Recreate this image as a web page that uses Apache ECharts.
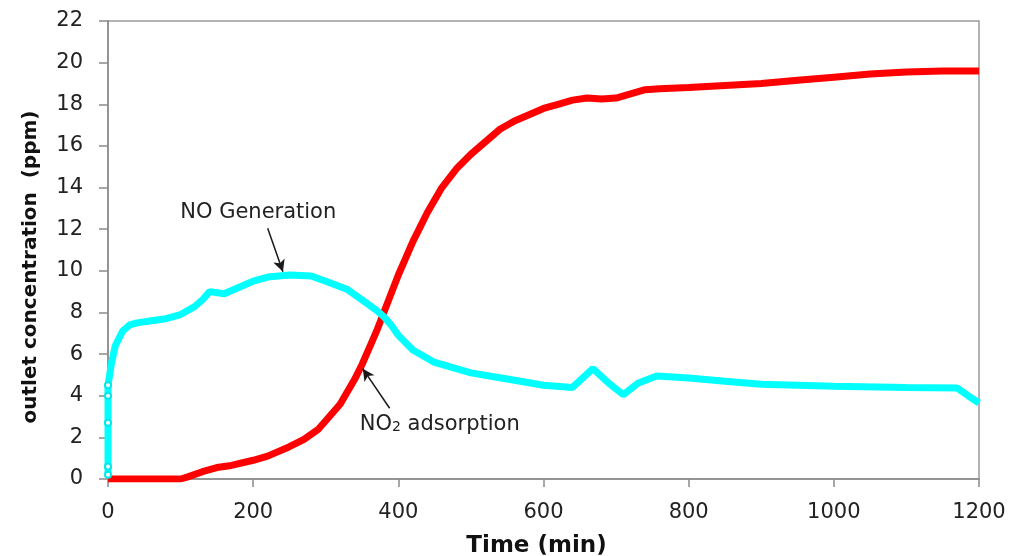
<!DOCTYPE html>
<html><head><meta charset="utf-8">
<script src="https://cdn.jsdelivr.net/npm/echarts@6/dist/echarts.min.js"></script>
<style>html,body{margin:0;padding:0;background:#fff}#c{width:1010px;height:556px}</style>
</head><body><div id="c"></div>
<script>
// ---- data ----
var timeNO2 = [0,20,40,60,80,100,110,130,150,170,200,220,250,270,290,300,320,340,350,360,370,380,390,400,410,420,430,440,450,460,480,500,520,540,560,580,600,620,640,660,680,700,720,740,760,800,850,900,950,1000,1050,1100,1150,1200];
var valNO2  = [0,0,0,0,0,0,0.1,0.35,0.55,0.65,0.9,1.1,1.55,1.9,2.4,2.8,3.6,4.8,5.5,6.3,7.1,8.0,8.9,9.8,10.6,11.4,12.1,12.8,13.4,14.0,14.9,15.6,16.2,16.8,17.2,17.5,17.8,18.0,18.2,18.3,18.25,18.3,18.5,18.7,18.75,18.8,18.9,19.0,19.15,19.3,19.45,19.55,19.6,19.6];
var timeNO = [0,0,0,0,0,5,10,20,30,40,60,80,100,120,130,140,160,180,200,220,250,280,300,330,350,370,380,390,400,420,450,500,550,600,640,668,690,710,730,756,800,850,900,1000,1100,1170,1185,1200];
var valNO  = [0.2,0.6,2.7,4.0,4.5,5.6,6.4,7.1,7.4,7.5,7.6,7.7,7.9,8.3,8.6,9.0,8.9,9.2,9.5,9.7,9.8,9.75,9.5,9.1,8.6,8.1,7.8,7.4,6.9,6.2,5.6,5.1,4.8,4.5,4.4,5.3,4.6,4.05,4.6,4.95,4.85,4.7,4.55,4.45,4.4,4.37,4.0,3.65];
var markedNO = 5; // first points drawn with circle markers
var xTicks = [0,200,400,600,800,1000,1200];
var yTicks = [0,2,4,6,8,10,12,14,16,18,20,22];
var noLabel = {text:'NO Generation', x:207, y:12.8};
var noArrow = {from:[220,12.05], to:[241,9.95]};
var no2Label = {text:'NO2 adsorption', x:457, y:2.8};
var no2Arrow = {from:[388,3.4], to:[351,5.3]};

function zip(t, v, nMark){
  return t.map(function(x,i){
    var d = {value:[x, v[i]]};
    if (nMark && i < nMark) { d.symbol = 'emptyCircle'; d.symbolSize = 6; }
    return d;
  });
}
var font = 'DejaVu Sans';
var chart = echarts.init(document.getElementById('c'), null, {renderer:'canvas'});
chart.setOption({
  animation:false,
  backgroundColor:'#fff',
  grid:{left:108,right:31,top:21,bottom:77,show:true,borderColor:'#9a9a9a',borderWidth:1.5,
    containLabel:false,outerBoundsMode:'none'},
  xAxis:{type:'value',min:0,max:1200,interval:200,
    name:'Time (min)',nameLocation:'middle',nameGap:56,
    nameTextStyle:{fontFamily:font,fontWeight:'bold',fontSize:23,color:'#111',padding:[0,14,0,0]},
    axisLine:{show:true,onZero:false,lineStyle:{color:'#8a8a8a',width:1.5}},
    axisTick:{show:true,length:8,lineStyle:{color:'#8a8a8a',width:1.5}},
    axisLabel:{margin:23,fontFamily:font,fontSize:21,color:'#222',
      formatter:function(v){return xTicks.indexOf(v)>=0?String(v):'';}},
    splitLine:{show:false}},
  yAxis:{type:'value',min:0,max:22,interval:2,
    name:'outlet concentration  (ppm)',nameLocation:'middle',nameGap:67,
    nameTextStyle:{fontFamily:font,fontWeight:'bold',fontSize:20,color:'#111',padding:[0,34,0,0]},
    axisLine:{show:true,lineStyle:{color:'#8a8a8a',width:1.5}},
    axisTick:{show:true,length:9,lineStyle:{color:'#8a8a8a',width:1.5}},
    axisLabel:{margin:25,fontFamily:font,fontSize:21,color:'#222',
      formatter:function(v){return yTicks.indexOf(v)>=0?String(v):'';}},
    splitLine:{show:false}},
  series:[
    {type:'line',name:'NO2',data:zip(timeNO2,valNO2),symbol:'none',
      lineStyle:{color:'#ff0000',width:7},itemStyle:{color:'#ff0000'},z:2,
      markLine:{silent:true,symbol:['none','arrow'],symbolSize:[9,12],
        lineStyle:{color:'#1a1a1a',width:1.5,type:'solid'},label:{show:false},
        data:[[{coord:no2Arrow.from},{coord:no2Arrow.to}]]},
      markPoint:{silent:true,symbol:'rect',symbolSize:1,itemStyle:{color:'rgba(0,0,0,0)'},
        label:{show:true,position:'inside',fontFamily:font,fontSize:21,color:'#222',
          formatter:'{a|NO}{s|2}{a| adsorption}',
          rich:{a:{fontFamily:font,fontSize:21,color:'#222',lineHeight:28,verticalAlign:'bottom'},
                s:{fontFamily:font,fontSize:14,color:'#222',lineHeight:19,verticalAlign:'bottom'}}},
        data:[{coord:[no2Label.x,no2Label.y],value:no2Label.text}]}
    },
    {type:'line',name:'NO',data:zip(timeNO,valNO,markedNO),symbol:'none',showSymbol:true,
      lineStyle:{color:'#00ffff',width:7},itemStyle:{color:'#00e8e8',borderWidth:2},z:3,
      markLine:{silent:true,symbol:['none','arrow'],symbolSize:[9,12],
        lineStyle:{color:'#1a1a1a',width:1.5,type:'solid'},label:{show:false},
        data:[[{coord:noArrow.from},{coord:noArrow.to}]]},
      markPoint:{silent:true,symbol:'rect',symbolSize:1,itemStyle:{color:'rgba(0,0,0,0)'},
        label:{show:true,position:'inside',fontFamily:font,fontSize:21,color:'#222',
          formatter:function(){return noLabel.text;}},
        data:[{coord:[noLabel.x,noLabel.y]}]}
    }
  ]
});
</script></body></html>
